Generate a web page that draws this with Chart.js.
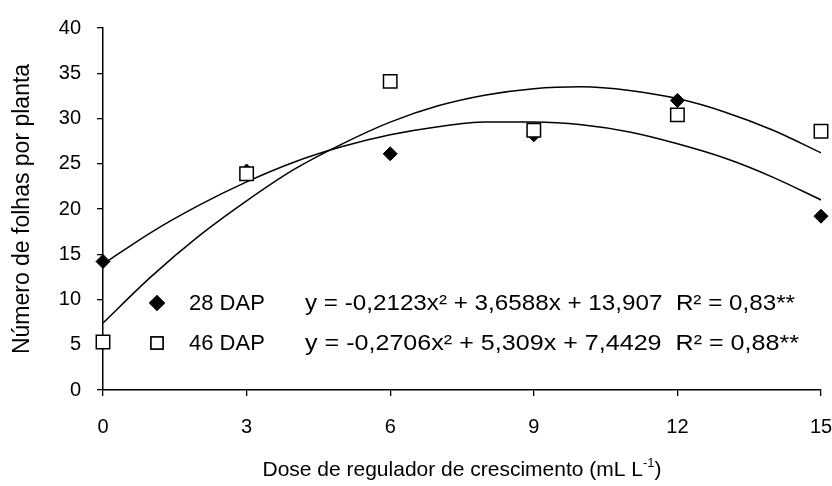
<!DOCTYPE html>
<html>
<head>
<meta charset="utf-8">
<script src="https://cdn.jsdelivr.net/npm/chart.js@4/dist/chart.umd.min.js"></script>
<style>
  html, body { margin: 0; padding: 0; background: #fff; }
  #wrap { width: 832px; height: 486px; }
</style>
</head>
<body>
<div id="wrap"><canvas id="chart" width="832" height="486"></canvas></div>
<script>
const doses = [0, 3, 6, 9, 12, 15];
const dap28 = [14.2, 24.2, 26.1, 28.2, 32.0, 19.2];
const dap46 = [5.3, 23.9, 34.1, 28.7, 30.4, 28.6];

// trend curves, one point per unit of dose
const curveX = [0, 1, 2, 3, 4, 5, 6, 7, 8, 9, 10, 11, 12, 13, 14, 15];
const curve28 = [13.9, 17.4, 20.4, 23.0, 25.2, 26.9, 28.2, 29.1, 29.6, 29.6, 29.3, 28.5, 27.2, 25.6, 23.5, 21.0];
const curve46 = [7.4, 12.5, 17.0, 20.9, 24.4, 27.2, 29.6, 31.4, 32.6, 33.3, 33.5, 33.1, 32.2, 30.7, 28.7, 26.2];

const xTicks = [0, 3, 6, 9, 12, 15];
const yTicks = [0, 5, 10, 15, 20, 25, 30, 35, 40];

const legendRows = [
  { name: "28 DAP", eq: "y = -0,2123x² + 3,6588x + 13,907  R² = 0,83**", w: 490 },
  { name: "46 DAP", eq: "y = -0,2706x² + 5,309x + 7,4429  R² = 0,88**", w: 494 }
];

const FONT = "'Liberation Sans', Arial, sans-serif";

const pts = (xs, ys) => xs.map((x, i) => ({ x: x, y: ys[i] }));

const overlay = {
  id: "overlay",
  afterDraw(chart) {
    const ctx = chart.ctx;
    ctx.save();

    // legend inside the plot
    const rows = [
      { y: 303, ds: chart.data.datasets[0] },
      { y: 343, ds: chart.data.datasets[1] }
    ];
    rows.forEach((r, i) => {
      ctx.fillStyle = r.ds.pointBackgroundColor;
      ctx.strokeStyle = "#000";
      ctx.lineWidth = 1.5;
      ctx.beginPath();
      Chart.helpers.drawPoint(ctx, {
        pointStyle: r.ds.pointStyle,
        radius: r.ds.pointStyle === "rect" ? 8.5 : 7,
        borderWidth: 1.5
      }, 157, r.y);
      ctx.fill();
      ctx.stroke();
      ctx.fillStyle = "#000";
      ctx.font = "22px " + FONT;
      ctx.textAlign = "left";
      ctx.textBaseline = "middle";
      ctx.fillText(legendRows[i].name, 189, r.y + 1);
      // stretch the equation to the width it has in the original
      const ew = ctx.measureText(legendRows[i].eq).width;
      ctx.save();
      ctx.translate(305, r.y + 1);
      ctx.scale(legendRows[i].w / ew, 1);
      ctx.fillText(legendRows[i].eq, 0, 0);
      ctx.restore();
    });

    // x axis title with superscript
    const main = "Dose de regulador de crescimento (mL L";
    const sup = "-1";
    const tail = ")";
    ctx.font = "21px " + FONT;
    const w1 = ctx.measureText(main).width;
    const w3 = ctx.measureText(tail).width;
    ctx.font = "13px " + FONT;
    const w2 = ctx.measureText(sup).width;
    const cx = (chart.chartArea.left + chart.chartArea.right) / 2;
    let x0 = cx - (w1 + w2 + w3) / 2;
    const yb = 476;
    ctx.textBaseline = "alphabetic";
    ctx.font = "21px " + FONT;
    ctx.fillText(main, x0, yb);
    ctx.font = "13px " + FONT;
    ctx.fillText(sup, x0 + w1, yb - 9);
    ctx.font = "21px " + FONT;
    ctx.fillText(tail, x0 + w1 + w2, yb);
    ctx.restore();
  }
};

new Chart(document.getElementById("chart"), {
  type: "scatter",
  data: {
    datasets: [
      {
        label: "28 DAP",
        data: pts(doses, dap28),
        pointStyle: "rectRot",
        pointRadius: 7,
        pointBackgroundColor: "#000",
        pointBorderColor: "#000",
        pointBorderWidth: 1,
        showLine: false,
        clip: false,
        order: 1
      },
      {
        label: "46 DAP",
        data: pts(doses, dap46),
        pointStyle: "rect",
        pointRadius: 9.5,
        pointBackgroundColor: "#fff",
        pointBorderColor: "#000",
        pointBorderWidth: 1.5,
        showLine: false,
        clip: false,
        order: 0
      },
      {
        label: "trend 28",
        data: pts(curveX, curve28),
        showLine: true,
        pointRadius: 0,
        borderColor: "#000",
        borderWidth: 1.5,
        cubicInterpolationMode: "monotone",
        order: 2
      },
      {
        label: "trend 46",
        data: pts(curveX, curve46),
        showLine: true,
        pointRadius: 0,
        borderColor: "#000",
        borderWidth: 1.5,
        cubicInterpolationMode: "monotone",
        order: 2
      }
    ]
  },
  options: {
    responsive: false,
    animation: false,
    layout: { padding: { top: 25, right: 2, bottom: 0, left: 0 } },
    plugins: {
      legend: { display: false },
      tooltip: { enabled: false }
    },
    scales: {
      x: {
        type: "linear",
        min: 0,
        max: 15,
        afterBuildTicks: s => { s.ticks = xTicks.map(v => ({ value: v })); },
        afterFit: s => { s.height = 96; s.paddingRight = 0; },
        grid: { drawOnChartArea: false, drawTicks: true, tickLength: 6, color: "#000", lineWidth: 1.3 },
        border: { display: true, color: "#000", width: 1.5 },
        ticks: { color: "#000", padding: 19, maxRotation: 0, font: { size: 20, family: FONT } }
      },
      y: {
        type: "linear",
        min: 0,
        max: 40,
        afterBuildTicks: s => { s.ticks = yTicks.map(v => ({ value: v })); },
        afterFit: s => { s.width = 103; },
        grid: { drawOnChartArea: false, drawTicks: true, tickLength: 6, color: "#000", lineWidth: 1.3 },
        border: { display: true, color: "#000", width: 1.5 },
        ticks: { color: "#000", padding: 16, font: { size: 20, family: FONT } },
        title: {
          display: true,
          text: "Número de folhas por planta",
          color: "#000",
          padding: { top: 9, bottom: 0 },
          font: { size: 23, family: FONT }
        }
      }
    }
  },
  plugins: [overlay]
});
</script>
</body>
</html>
